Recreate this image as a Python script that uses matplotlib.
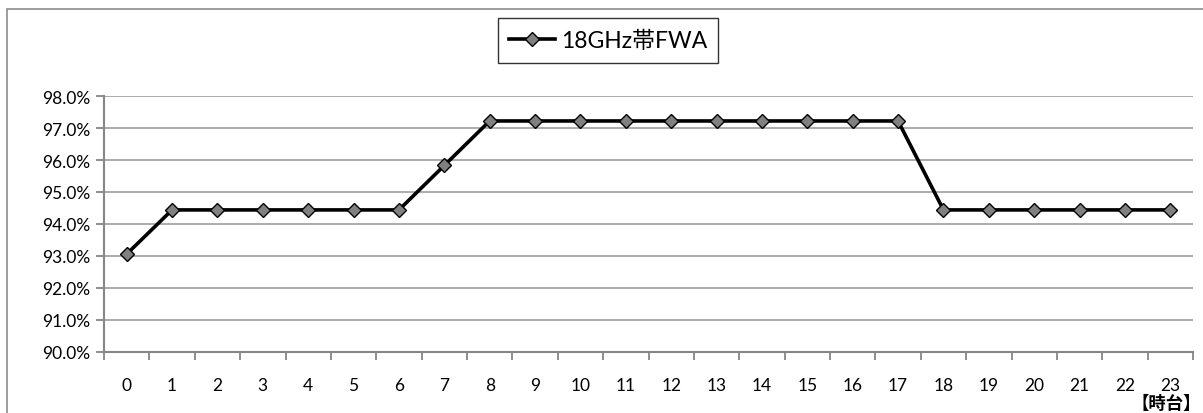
import matplotlib
matplotlib.use("Agg")
import matplotlib.pyplot as plt
from matplotlib.patches import Rectangle
from matplotlib.ticker import FixedLocator, NullFormatter, FuncFormatter

plt.rcParams['font.family'] = ['Lato', 'Noto Sans CJK JP', 'DejaVu Sans']

hours = list(range(24))
hour_labels = [str(h) for h in hours]
series_name = "18GHz帯FWA"
ratio = [93.06, 94.44, 94.44, 94.44, 94.44, 94.44, 94.44, 95.83,
         97.22, 97.22, 97.22, 97.22, 97.22, 97.22, 97.22, 97.22,
         97.22, 97.22, 94.44, 94.44, 94.44, 94.44, 94.44, 94.44]

W, H = 1203, 414
fig = plt.figure(figsize=(W / 100, H / 100), dpi=100)

# outer chart frame (top and left edges visible)
fig.patches.append(Rectangle((7 / W, -0.2), 1.2, 1.2 - 10 / H,
                             transform=fig.transFigure, fill=False,
                             edgecolor='#8c8c8c', linewidth=1.2))

ax = fig.add_axes([104 / W, 1 - 353 / H, (1193 - 104) / W, (353 - 97) / H])

ax.plot(hours, ratio, color='black', linewidth=2.6, marker='D',
        markersize=7.2, markerfacecolor='#808080', markeredgecolor='black',
        markeredgewidth=1.0, label=series_name, zorder=3)

ax.set_xlim(-0.5, 23.5)
ax.set_ylim(90, 98)
ax.set_yticks([90 + i for i in range(9)])
ax.yaxis.set_major_formatter(FuncFormatter(lambda v, p: f"{v:.1f}%"))
ax.grid(axis='y', color='#a6a6a6', linewidth=1.3)
ax.set_axisbelow(True)

ax.xaxis.set_major_locator(FixedLocator([h - 0.5 for h in hours] + [23.5]))
ax.xaxis.set_major_formatter(NullFormatter())
ax.xaxis.set_minor_locator(FixedLocator(hours))
ax.set_xticklabels(hour_labels, minor=True)
ax.tick_params(axis='x', which='major', direction='out', length=6,
               color='#868686', width=1.3)
ax.tick_params(axis='x', which='minor', length=0, pad=18, labelsize=12.5,
               labelcolor='black')
ax.tick_params(axis='y', direction='out', length=6, color='#868686',
               width=1.3, labelsize=12.5, pad=4)

for s in ['top', 'right']:
    ax.spines[s].set_visible(False)
for s in ['left', 'bottom']:
    ax.spines[s].set_color('#868686')
    ax.spines[s].set_linewidth(1.5)

leg = ax.legend(loc='center', bbox_to_anchor=(608 / W, 1 - 41.5 / H),
                bbox_transform=fig.transFigure, fontsize=16.5,
                frameon=True, fancybox=False, edgecolor='black',
                handlelength=2.0, handletextpad=0.25, borderpad=0.5,
                borderaxespad=0)
leg.get_frame().set_linewidth(1.0)

fig.text(1201 / W, 1 - 395 / H, "【時台】", ha='right', va='top',
         fontsize=12.5, fontweight='bold')

fig.savefig("out.png", dpi=100)
